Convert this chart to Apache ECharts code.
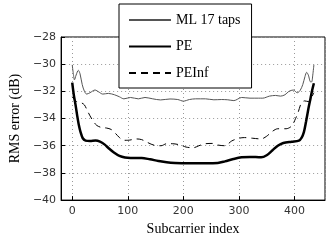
<!DOCTYPE html>
<html>
<head>
<meta charset="utf-8">
<script src="https://cdn.jsdelivr.net/npm/echarts@6/dist/echarts.min.js"></script>
<style>html,body{margin:0;padding:0;background:#fff}#c{width:336px;height:241px}</style>
</head>
<body>
<div id="c"></div>
<script>
var seriesNames = ['ML 17 taps', 'PE', 'PEInf'];
var xTickLabels = [0, 100, 200, 300, 400];
var yTickLabels = [-40, -38, -36, -34, -32, -30, -28];

var mlX = [0, 2, 4, 7, 11, 14, 18, 22, 26, 32, 41, 48, 55, 65, 76, 85, 93, 105, 119, 131, 145, 159, 176, 190, 200, 211, 222, 240, 255, 269, 280, 291, 305, 320, 335, 343, 355, 366, 375, 383, 390, 398, 405, 410, 415, 419, 422, 425, 429, 431, 433, 435];
var mlY = [-30.05, -30.7, -31.15, -30.8, -30.45, -30.7, -31.5, -32.0, -32.2, -32.1, -31.9, -32.05, -32.2, -32.15, -32.25, -32.4, -32.55, -32.45, -32.55, -32.45, -32.55, -32.63, -32.56, -32.6, -32.72, -32.6, -32.55, -32.55, -32.62, -32.6, -32.62, -32.68, -32.45, -32.5, -32.5, -32.5, -32.35, -32.3, -32.35, -32.25, -32.0, -31.9, -32.1, -31.95, -31.5, -30.9, -30.6, -30.8, -31.3, -31.3, -30.8, -30.05];

var peX = [0, 3, 6, 9, 12, 15, 19, 24, 32, 42, 50, 58, 66, 75, 85, 95, 105, 125, 140, 155, 170, 185, 210, 240, 262, 275, 290, 305, 320, 340, 350, 360, 370, 380, 395, 408, 413, 417, 421, 425, 429, 432, 435];
var peY = [-31.35, -32.3, -33.0, -33.8, -34.5, -35.0, -35.45, -35.62, -35.65, -35.62, -35.7, -35.9, -36.2, -36.5, -36.75, -36.87, -36.9, -36.9, -37.0, -37.12, -37.22, -37.27, -37.29, -37.29, -37.27, -37.15, -36.98, -36.85, -36.82, -36.85, -36.7, -36.35, -36.0, -35.8, -35.7, -35.62, -35.4, -35.0, -34.2, -33.3, -32.5, -31.9, -31.4];

var peiX = [0, 4, 8, 12, 17, 22, 27, 32, 38, 44, 52, 62, 70, 78, 85, 92, 100, 108, 116, 125, 135, 148, 160, 170, 180, 195, 205, 218, 228, 240, 252, 262, 275, 287, 300, 310, 325, 340, 350, 360, 370, 385, 395, 402, 407, 412, 418, 425, 430, 435];
var peiY = [-32.4, -32.6, -32.75, -32.8, -32.85, -33.0, -33.4, -33.8, -34.2, -34.5, -34.65, -34.7, -34.8, -35.1, -35.4, -35.6, -35.6, -35.55, -35.5, -35.55, -35.75, -35.97, -36.0, -35.85, -35.85, -35.95, -36.1, -36.15, -36.0, -35.85, -35.83, -35.95, -36.0, -35.65, -35.45, -35.4, -35.45, -35.5, -35.3, -34.95, -34.75, -34.75, -34.55, -34.0, -33.5, -32.9, -32.7, -32.75, -32.5, -32.1];

function pairs(xs, ys) { return xs.map(function (x, i) { return [x, ys[i]]; }); }

var chart = echarts.init(document.getElementById('c'), null, {renderer: 'canvas'});
var tickFont = {fontFamily: 'DejaVu Sans', fontSize: 11, color: '#333'};
var serif = 'Liberation Serif';
chart.setOption({
  animation: false,
  backgroundColor: '#fff',
  grid: {left: 49, top: 37, right: 11, bottom: 34, show: true, borderColor: '#000', borderWidth: 1, backgroundColor: 'transparent'},
  legend: {
    orient: 'vertical', left: 119, top: 4,
    padding: [9, 11, 8, 9],
    itemWidth: 42, itemHeight: 14, itemGap: 12.5,
    itemStyle: {opacity: 0},
    backgroundColor: '#fff', borderColor: '#000', borderWidth: 1,
    textStyle: {fontFamily: serif, fontSize: 14, color: '#000'},
    data: seriesNames
  },
  xAxis: {
    type: 'value', min: -20, max: 455, splitNumber: 5,
    name: 'Subcarrier index', nameLocation: 'middle', nameGap: 19,
    nameTextStyle: {fontFamily: serif, fontSize: 14, color: '#000'},
    axisLine: {show: true, onZero: false, lineStyle: {color: '#000', width: 1}},
    axisTick: {show: true, inside: true, length: 4, lineStyle: {color: '#000'}},
    axisLabel: Object.assign({margin: 6, showMinLabel: false, showMaxLabel: false, formatter: function (v) { return xTickLabels.indexOf(v) >= 0 ? String(v) : ''; }}, tickFont),
    splitLine: {show: true, lineStyle: {color: '#999', type: [1, 3], width: 1}}
  },
  yAxis: {
    type: 'value', min: yTickLabels[0], max: yTickLabels[yTickLabels.length - 1], interval: 2,
    name: 'RMS error (dB)', nameLocation: 'middle', nameGap: 33,
    nameTextStyle: {fontFamily: serif, fontSize: 14, color: '#000'},
    axisLine: {show: true, onZero: false, lineStyle: {color: '#000', width: 1}},
    axisTick: {show: true, inside: true, length: 4, lineStyle: {color: '#000'}},
    axisLabel: Object.assign({margin: 5, formatter: function (v) { return v < 0 ? '\u2212' + Math.abs(v) : String(v); }}, tickFont),
    splitLine: {show: true, lineStyle: {color: '#999', type: [1, 3], width: 1}}
  },
  series: [
    {name: seriesNames[0], type: 'line', data: pairs(mlX, mlY), symbol: 'none', smooth: 0.3,
     lineStyle: {color: '#555', width: 1}, itemStyle: {color: '#555'}},
    {name: seriesNames[1], type: 'line', data: pairs(peX, peY), symbol: 'none', smooth: 0.3,
     lineStyle: {color: '#000', width: 2.5}, itemStyle: {color: '#000'}},
    {name: seriesNames[2], type: 'line', data: pairs(peiX, peiY), symbol: 'none', smooth: 0.3,
     lineStyle: {color: '#000', width: 1, type: [7, 5]}, itemStyle: {color: '#000'}}
  ]
});
</script>
</body>
</html>
